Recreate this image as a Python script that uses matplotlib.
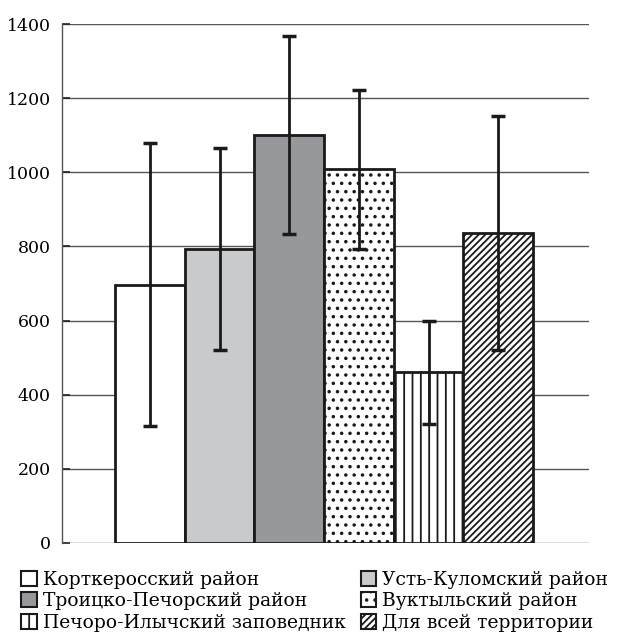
import matplotlib

matplotlib.use("Agg")
import matplotlib.pyplot as plt
from matplotlib.patches import Patch

# values
regions = [
    "Корткеросский район",
    "Усть-Куломский район",
    "Троицко-Печорский район",
    "Вуктыльский район",
    "Печоро-Илычский заповедник",
    "Для всей территории",
]
means = [697, 793, 1100, 1008, 460, 836]
errors = [381, 273, 267, 215, 139, 315]
y_ticks = [0, 200, 400, 600, 800, 1000, 1200, 1400]

faces = ["white", "#c9cacc", "#97989c", "white", "white", "white"]
hatches = [None, None, None, "..", "||", "/////"]

plt.rcParams["font.family"] = ["DejaVu Serif"]
plt.rcParams["hatch.linewidth"] = 1.3

fig = plt.figure(figsize=(6.19, 6.37), dpi=100)
ax = fig.add_axes([0.100, 0.1476, 0.852, 0.8147])

x = list(range(len(regions)))
for xi, m, e, fc, h in zip(x, means, errors, faces, hatches):
    ax.bar(xi, m, width=1.0, color=fc, edgecolor="#1a1a1a", linewidth=2.0, hatch=h, zorder=2)
    ax.errorbar(xi, m, yerr=e, fmt="none", ecolor="#1a1a1a", elinewidth=2.0,
                capsize=5, capthick=2.5, zorder=3)

ax.set_xlim(-1.263, 6.306)
ax.set_ylim(0, 1400)
ax.set_yticks(y_ticks)
ax.set_xticks([])
ax.yaxis.grid(True, color="#555555", linewidth=1.0, zorder=0)
ax.set_axisbelow(True)
for side in ("top", "right", "bottom"):
    ax.spines[side].set_visible(False)
ax.spines["left"].set_linewidth(1.0)
ax.spines["left"].set_color("#555555")
ax.tick_params(axis="y", direction="in", length=6, width=1.2, color="#222222",
               labelsize=12.5, pad=8)

handles = [Patch(facecolor=fc, edgecolor="#1a1a1a", linewidth=1.5, hatch=h)
           for fc, h in zip(faces, hatches)]
order = [0, 2, 4, 1, 3, 5]
fig.legend([handles[i] for i in order], [regions[i] for i in order], ncol=2,
           loc="lower left", bbox_to_anchor=(0.022, -0.004), frameon=False,
           fontsize=13.5, handlelength=0.85, handleheight=0.85, handletextpad=0.3,
           columnspacing=0.8, labelspacing=0.2, borderaxespad=0.0)

fig.savefig("out.png", dpi=100)
